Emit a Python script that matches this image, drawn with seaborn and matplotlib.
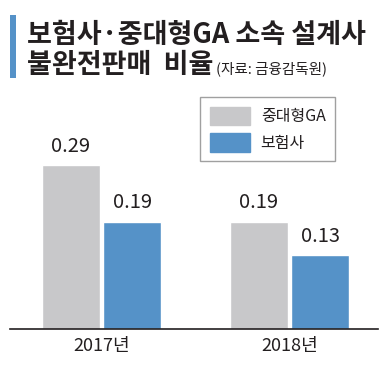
import pandas as pd
import matplotlib.pyplot as plt
import matplotlib.patches as mpatches
import seaborn as sns

years = ['2017년', '2018년']
groups = ['중대형GA', '보험사']
ga_vals = [0.29, 0.19]
ins_vals = [0.19, 0.13]

df = pd.DataFrame({
    'year': years * 2,
    'group': [groups[0]] * 2 + [groups[1]] * 2,
    'value': ga_vals + ins_vals,
})

sns.set_style('white')
plt.rcParams['font.family'] = ['Noto Sans CJK KR', 'DejaVu Sans']

W, H = 390, 369
fig = plt.figure(figsize=(W / 100, H / 100), dpi=100)
ax = fig.add_axes([10 / W, 40 / H, 368 / W, 239 / H])

gray = '#c8c8ca'
blue = '#5592c8'
txt = '#231f20'

sns.barplot(data=df, x='year', y='value', hue='group', palette=[gray, blue],
            width=0.65, gap=0.05, saturation=1, ax=ax, legend=False)

ax.set_ylim(0, 0.29 * 239 / 164)
ax.set_xlim(-0.487, 1.471)
for s in ['top', 'right', 'left']:
    ax.spines[s].set_visible(False)
ax.spines['bottom'].set_color(txt)
ax.spines['bottom'].set_linewidth(1.2)
ax.set_yticks([])
ax.set_xlabel('')
ax.set_ylabel('')
ax.tick_params(axis='x', length=0, pad=6, labelsize=13, labelcolor=txt)

for c in ax.containers:
    ax.bar_label(c, labels=[f'{v:.2f}' for v in c.datavalues], padding=6,
                 fontsize=14.5, color=txt)

handles = [mpatches.Patch(color=gray, label=groups[0]),
           mpatches.Patch(color=blue, label=groups[1])]
leg = fig.legend(handles=handles, loc='upper left',
                 bbox_to_anchor=(200 / W, 1 - 97 / H), fontsize=11.5,
                 frameon=True, fancybox=False, handlelength=2.5,
                 handleheight=1.4, borderpad=0.6, labelspacing=0.5,
                 handletextpad=0.7, borderaxespad=0)
leg.get_frame().set_edgecolor('#888888')
leg.get_frame().set_linewidth(1)
for t in leg.get_texts():
    t.set_color(txt)

fig.add_artist(mpatches.Rectangle((10 / W, 1 - 78 / H), 6 / W, 63 / H,
                                  transform=fig.transFigure, color=blue, lw=0))
fig.text(27 / W, 1 - 35 / H, '보험사·중대형GA 소속 설계사', fontsize=19.5,
         fontweight='bold', color=txt, va='center', ha='left')
fig.text(27 / W, 1 - 65 / H, '불완전판매  비율', fontsize=19.5,
         fontweight='bold', color=txt, va='center', ha='left')
fig.text(216 / W, 1 - 69 / H, '(자료: 금융감독원)', fontsize=10.5,
         color=txt, va='center', ha='left')

fig.savefig('out.png', dpi=100, facecolor='white')
